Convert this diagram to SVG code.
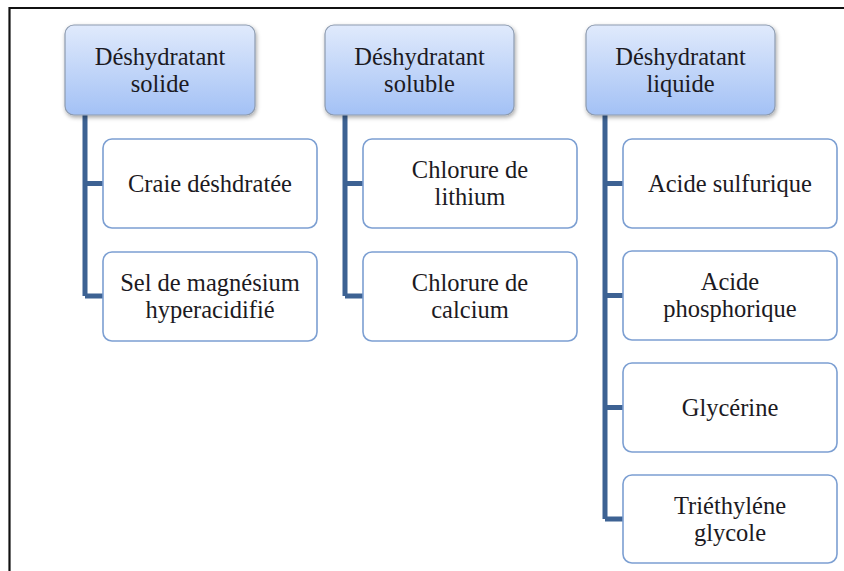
<svg xmlns="http://www.w3.org/2000/svg" width="844" height="571" viewBox="0 0 844 571">
<defs>
<linearGradient id="pg" x1="0" y1="0" x2="0" y2="1">
<stop offset="0" stop-color="#e0eafc"/>
<stop offset="1" stop-color="#a3c1f5"/>
</linearGradient>
<filter id="sh" x="-10%" y="-10%" width="125%" height="130%">
<feDropShadow dx="1" dy="2" stdDeviation="2" flood-color="#000" flood-opacity="0.35"/>
</filter>
<style>
.p{fill:url(#pg);stroke:#8d9bb0;stroke-width:1.2;filter:url(#sh)}
.c{fill:#fff;stroke:#7c9fd2;stroke-width:1.6}
.t{font-family:"Liberation Serif","Times New Roman",serif;font-size:24.5px;fill:#1c1a22;text-anchor:middle}
.k{stroke:#3d6293;stroke-width:5;fill:none}
</style>
</defs>
<rect width="844" height="571" fill="#fff"/>
<path d="M9.5 571 V8 H844" fill="none" stroke="#111" stroke-width="2.2"/>
<g id="connectors">
<path class="k" d="M85 115 V296 M85 183.5 H104 M85 296 H104"/>
<path class="k" d="M345 115 V296 M345 183.5 H364 M345 296 H364"/>
<path class="k" d="M605 115 V519 M605 183.5 H624 M605 295.5 H624 M605 407.5 H624 M605 519 H624"/>
</g>
<g id="p1"><rect class="p" x="65" y="25" width="190" height="90" rx="9"/><text class="t" x="160" y="64.5">Déshydratant</text><text class="t" x="160" y="91.5">solide</text></g>
<g id="p2"><rect class="p" x="325" y="25" width="189" height="90" rx="9"/><text class="t" x="419.5" y="64.5">Déshydratant</text><text class="t" x="419.5" y="91.5">soluble</text></g>
<g id="p3"><rect class="p" x="586" y="25" width="189" height="90" rx="9"/><text class="t" x="680.5" y="64.5">Déshydratant</text><text class="t" x="680.5" y="91.5">liquide</text></g>
<g id="c11"><rect class="c" x="103" y="139" width="214" height="89" rx="9"/><text class="t" x="210" y="192">Craie déshdratée</text></g>
<g id="c12"><rect class="c" x="103" y="252" width="214" height="89" rx="9"/><text class="t" x="210" y="291">Sel de magnésium</text><text class="t" x="210" y="318">hyperacidifié</text></g>
<g id="c21"><rect class="c" x="363" y="139" width="214" height="89" rx="9"/><text class="t" x="470" y="178">Chlorure de</text><text class="t" x="470" y="205">lithium</text></g>
<g id="c22"><rect class="c" x="363" y="252" width="214" height="89" rx="9"/><text class="t" x="470" y="291">Chlorure de</text><text class="t" x="470" y="318">calcium</text></g>
<g id="c31"><rect class="c" x="623" y="139" width="214" height="89" rx="9"/><text class="t" x="730" y="192">Acide sulfurique</text></g>
<g id="c32"><rect class="c" x="623" y="251" width="214" height="89" rx="9"/><text class="t" x="730" y="290">Acide</text><text class="t" x="730" y="317">phosphorique</text></g>
<g id="c33"><rect class="c" x="623" y="363" width="214" height="89" rx="9"/><text class="t" x="730" y="416">Glycérine</text></g>
<g id="c34"><rect class="c" x="623" y="475" width="214" height="88" rx="9"/><text class="t" x="730" y="514">Triéthyléne</text><text class="t" x="730" y="541">glycole</text></g>
</svg>
